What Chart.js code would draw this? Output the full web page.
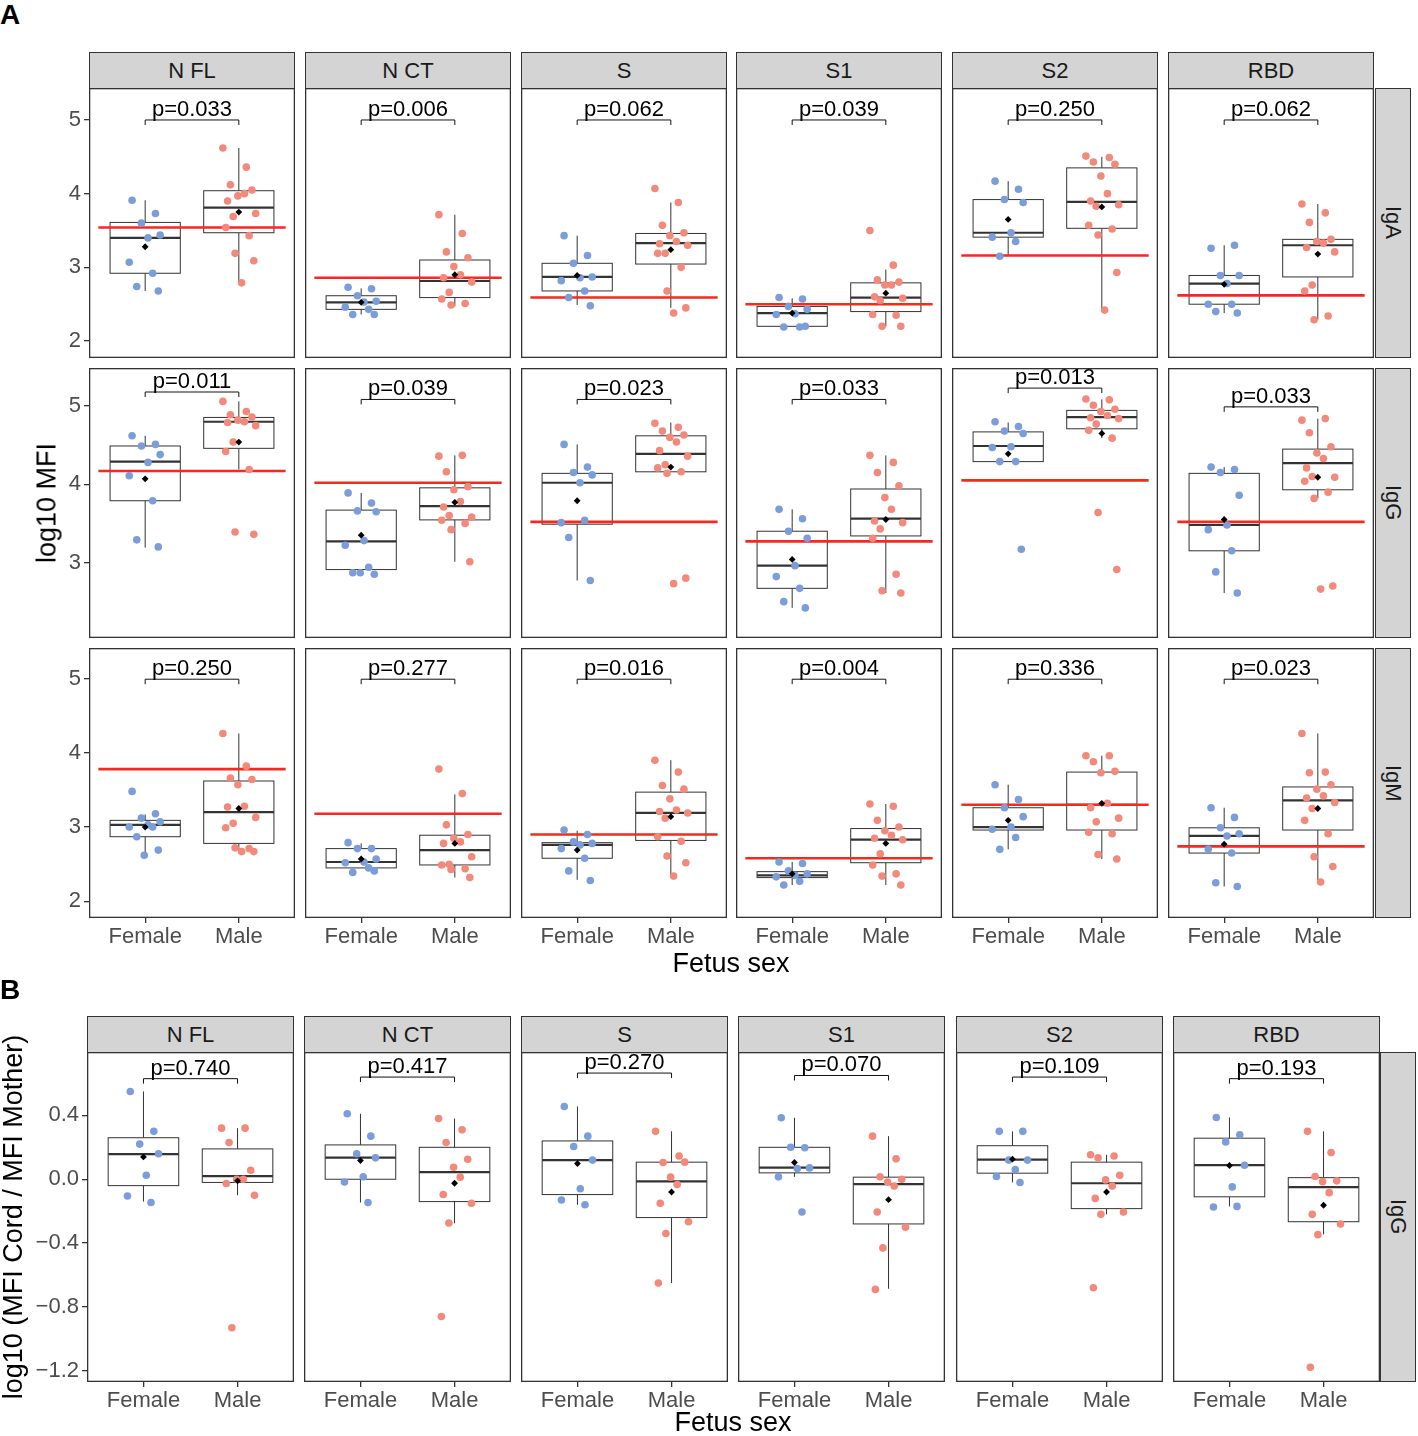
<!DOCTYPE html>
<html>
<head>
<meta charset="utf-8">
<script src="https://cdn.jsdelivr.net/npm/chart.js@4.4.1/dist/chart.umd.min.js"></script>
<style>
  body { margin: 0; background: #fff; font-family: "Liberation Sans", Arial, sans-serif; }
  #fig { position: relative; width: 1418px; height: 1436px; overflow: hidden; }
  .strip { position: absolute; box-sizing: border-box; background: #d4d4d4; border: 1.3px solid #333;
           display: flex; align-items: center; justify-content: center; font-size: 22px; color: #1a1a1a; }
  .vstrip { writing-mode: vertical-rl; }
  .title { position: absolute; white-space: nowrap; font-size: 27px; color: #000; transform: translate(-50%, -50%); }
  .ytitle { transform: translate(-50%, -50%) rotate(-90deg); }
  .tag { position: absolute; font-weight: bold; font-size: 28px; line-height: 28px; }
</style>
</head>
<body>
<div id="fig"></div>
<script>
// ── Data ─────────────────────────────────────────────────────────────────
const ANTIGENS = ['N FL', 'N CT', 'S', 'S1', 'S2', 'RBD'];
const ISOTYPES = ['IgA', 'IgG', 'IgM'];
const GROUPS   = ['Female', 'Male'];
// fixed horizontal jitter (in category units) reused for every group
const JITTER   = [-0.14, 0.11, -0.04, 0.16, 0.03, -0.17, 0.08, -0.09, 0.14, -0.01, 0.06, -0.12, 0.18, -0.06];

// box stats: [lower whisker, q1, median, q3, upper whisker, mean]
const IGA_F_PTS = [
  [3.91, 3.73, 3.60, 3.44, 3.40, 3.07, 2.92, 2.74, 2.68],
  [2.73, 2.71, 2.615, 2.54, 2.53, 2.46, 2.43, 2.36, 2.36],
  [3.43, 3.16, 3.055, 2.87, 2.86, 2.82, 2.68, 2.59, 2.48],
  [2.59, 2.57, 2.47, 2.43, 2.37, 2.36, 2.19, 2.19, 2.20],
  [4.17, 4.06, 3.92, 3.88, 3.47, 3.41, 3.35, 3.15],
  [3.26, 3.30, 2.89, 2.89, 2.78, 2.50, 2.50, 2.40, 2.38]
];
const IGA_M_PTS = [
  [4.62, 4.36, 4.12, 4.05, 3.97, 4.00, 3.90, 3.73, 3.69, 3.54, 3.43, 3.19, 3.09, 2.79],
  [3.715, 3.46, 3.21, 3.13, 3.01, 2.90, 2.86, 2.80, 2.66, 2.57, 2.51, 2.49],
  [4.07, 3.88, 3.57, 3.47, 3.43, 3.35, 3.32, 3.30, 3.19, 3.19, 3.00, 2.68, 2.45, 2.38],
  [3.50, 3.03, 2.83, 2.80, 2.76, 2.76, 2.60, 2.58, 2.55, 2.36, 2.35, 2.20, 2.20],
  [4.51, 4.49, 4.43, 4.40, 4.24, 4.00, 3.90, 3.85, 3.83, 3.57, 3.52, 3.44, 2.93, 2.42],
  [3.86, 3.74, 3.61, 3.38, 3.35, 3.33, 3.27, 3.21, 2.76, 2.68, 2.34, 2.29]
];
const IGA_F_BOX = [
  [2.68, 2.92, 3.40, 3.61, 3.91, 3.28], [2.36, 2.43, 2.525, 2.615, 2.715, 2.525],
  [2.49, 2.68, 2.87, 3.055, 3.43, 2.89], [2.20, 2.20, 2.38, 2.47, 2.58, 2.38],
  [3.17, 3.41, 3.47, 3.92, 4.17, 3.65], [2.38, 2.50, 2.78, 2.89, 3.30, 2.77]
];
const IGA_M_BOX = [
  [2.80, 3.47, 3.81, 4.04, 4.62, 3.75], [2.47, 2.59, 2.815, 3.10, 3.715, 2.90],
  [2.45, 3.045, 3.33, 3.46, 3.88, 3.24], [2.20, 2.40, 2.59, 2.79, 2.97, 2.65],
  [2.43, 3.53, 3.89, 4.35, 4.50, 3.82], [2.29, 2.87, 3.30, 3.38, 3.86, 3.18]
];
const IGA_CUT = [3.54, 2.86, 2.59, 2.50, 3.16, 2.62];
const IGA_P   = ['p=0.033', 'p=0.006', 'p=0.062', 'p=0.039', 'p=0.250', 'p=0.062'];
const IGA_BRK = [5.0, 5.0, 5.0, 5.0, 5.0, 5.0];

const IGG_F_PTS = [
  [4.62, 4.51, 4.49, 4.38, 4.28, 4.11, 3.79, 3.29, 3.20],
  [3.89, 3.76, 3.66, 3.65, 3.28, 3.22, 2.94, 2.87, 2.85, 2.87],
  [4.51, 4.22, 4.15, 4.12, 4.02, 3.51, 3.54, 3.32, 2.77],
  [3.68, 3.56, 3.40, 3.31, 2.96, 2.82, 2.67, 2.50, 2.42],
  [4.80, 4.74, 4.68, 4.65, 4.48, 4.47, 4.29, 4.29, 3.17],
  [4.22, 4.19, 4.15, 3.86, 3.48, 3.42, 3.15, 2.88, 2.61]
];
const IGG_M_PTS = [
  [5.06, 4.93, 4.89, 4.86, 4.82, 4.80, 4.79, 4.75, 4.54, 4.42, 4.19, 3.39, 3.36],
  [4.36, 4.37, 4.16, 3.97, 3.93, 3.78, 3.71, 3.58, 3.60, 3.54, 3.50, 3.42, 3.01],
  [4.78, 4.73, 4.68, 4.63, 4.60, 4.54, 4.43, 4.36, 4.25, 4.21, 4.16, 4.14, 2.80, 2.73],
  [4.37, 4.28, 4.15, 3.98, 3.83, 3.68, 3.53, 3.51, 3.43, 3.31, 2.85, 2.64, 2.61],
  [5.09, 5.08, 5.01, 4.96, 4.93, 4.88, 4.85, 4.84, 4.77, 4.69, 4.59, 3.64, 2.91],
  [4.82, 4.84, 4.66, 4.48, 4.40, 4.33, 4.21, 4.09, 4.10, 4.04, 3.90, 3.82, 2.70, 2.66]
];
const IGG_F_BOX = [
  [3.19, 3.79, 4.29, 4.49, 4.62, 4.07], [2.85, 2.91, 3.27, 3.67, 3.89, 3.35],
  [2.77, 3.49, 4.02, 4.14, 4.51, 3.79], [2.42, 2.67, 2.96, 3.40, 3.68, 3.04],
  [4.29, 4.29, 4.49, 4.67, 4.79, 4.39], [2.61, 3.15, 3.48, 4.14, 4.22, 3.55]
];
const IGG_M_BOX = [
  [4.19, 4.46, 4.80, 4.855, 5.06, 4.54], [3.01, 3.545, 3.72, 3.955, 4.37, 3.77],
  [4.16, 4.16, 4.39, 4.62, 4.79, 4.22], [2.61, 3.34, 3.56, 3.94, 4.37, 3.55],
  [4.59, 4.71, 4.86, 4.945, 5.085, 4.65], [3.82, 3.93, 4.27, 4.45, 4.84, 4.09]
];
const IGG_CUT = [4.17, 4.02, 3.52, 3.27, 4.05, 3.52];
const IGG_P   = ['p=0.011', 'p=0.039', 'p=0.023', 'p=0.033', 'p=0.013', 'p=0.033'];
const IGG_BRK = [5.18, 5.085, 5.085, 5.085, 5.23, 4.99];

const IGM_F_PTS = [
  [3.48, 3.18, 3.12, 3.07, 3.03, 3.00, 3.00, 2.87, 2.69, 2.62],
  [2.79, 2.71, 2.71, 2.57, 2.53, 2.52, 2.45, 2.39, 2.41],
  [2.96, 2.90, 2.80, 2.78, 2.76, 2.71, 2.58, 2.41, 2.28],
  [2.53, 2.51, 2.41, 2.37, 2.35, 2.33, 2.27, 2.22],
  [3.57, 3.37, 3.26, 3.14, 3.00, 2.97, 2.86, 2.70],
  [3.26, 3.13, 2.99, 2.91, 2.88, 2.70, 2.65, 2.25, 2.20]
];
const IGM_M_PTS = [
  [4.26, 3.82, 3.66, 3.64, 3.57, 3.28, 3.27, 3.13, 3.05, 2.99, 2.71, 2.72, 2.67, 2.67],
  [3.78, 3.45, 3.03, 2.90, 2.85, 2.80, 2.78, 2.60, 2.50, 2.49, 2.44, 2.43, 2.32],
  [3.90, 3.74, 3.56, 3.51, 3.38, 3.23, 3.21, 3.19, 3.12, 2.87, 2.81, 2.61, 2.52, 2.34],
  [3.31, 3.28, 3.09, 3.00, 2.95, 2.89, 2.85, 2.83, 2.64, 2.49, 2.37, 2.34, 2.22],
  [3.96, 3.96, 3.88, 3.75, 3.73, 3.32, 3.26, 3.12, 3.07, 2.93, 2.91, 2.63, 2.57],
  [4.26, 3.74, 3.73, 3.57, 3.51, 3.42, 3.39, 3.33, 3.25, 3.09, 2.91, 2.60, 2.47, 2.26]
];
const IGM_F_BOX = [
  [2.63, 2.87, 3.03, 3.09, 3.17, 3.00], [2.45, 2.45, 2.53, 2.71, 2.78, 2.57],
  [2.29, 2.58, 2.76, 2.79, 2.95, 2.69], [2.22, 2.32, 2.35, 2.40, 2.53, 2.37],
  [2.70, 2.96, 3.00, 3.26, 3.57, 3.09], [2.20, 2.65, 2.88, 2.99, 3.26, 2.77]
];
const IGM_M_BOX = [
  [2.67, 2.78, 3.20, 3.62, 4.26, 3.25], [2.32, 2.49, 2.69, 2.89, 3.44, 2.78],
  [2.34, 2.82, 3.19, 3.47, 3.90, 3.14], [2.22, 2.52, 2.83, 2.98, 3.31, 2.78],
  [2.57, 2.96, 3.30, 3.74, 3.96, 3.32], [2.26, 2.96, 3.36, 3.54, 4.26, 3.25]
];
const IGM_CUT = [3.78, 3.18, 2.90, 2.58, 3.30, 2.74];
const IGM_P   = ['p=0.250', 'p=0.277', 'p=0.016', 'p=0.004', 'p=0.336', 'p=0.023'];
const IGM_BRK = [4.99, 4.99, 4.99, 4.99, 4.99, 4.99];

// panel B: log10(cord / mother), IgG
const RATIO_F_PTS = [
  [0.55, 0.30, 0.22, 0.16, 0.025, -0.105, -0.146],
  [0.41, 0.27, 0.16, 0.134, 0.015, -0.017, -0.146],
  [0.456, 0.27, 0.205, 0.12, -0.06, -0.13, -0.16],
  [0.385, 0.197, 0.20, 0.071, 0.067, 0.015, -0.205],
  [0.30, 0.30, 0.12, 0.12, 0.06, 0.017, -0.02],
  [0.387, 0.278, 0.234, 0.088, -0.048, -0.174, -0.17]
];
const RATIO_M_PTS = [
  [0.32, 0.32, 0.23, 0.056, 0.0, 0.0, -0.027, -0.10, -0.93],
  [0.38, 0.31, 0.23, 0.125, 0.075, 0.013, -0.096, -0.15, -0.274, -0.86],
  [0.30, 0.146, 0.105, 0.107, 0.013, -0.033, -0.15, -0.266, -0.34, -0.65],
  [0.27, 0.128, 0.015, 0.0, -0.017, -0.042, -0.205, -0.30, -0.43, -0.69],
  [0.153, 0.146, 0.134, 0.025, -0.004, -0.042, -0.12, -0.205, -0.22, -0.68],
  [0.30, 0.167, 0.017, -0.01, -0.015, -0.084, -0.22, -0.28, -0.347, -1.178]
];
const RATIO_F_BOX = [
  [-0.14, -0.04, 0.157, 0.26, 0.55, 0.14], [-0.146, 0.0, 0.136, 0.215, 0.41, 0.117],
  [-0.16, -0.096, 0.12, 0.24, 0.456, 0.098], [0.015, 0.04, 0.073, 0.20, 0.385, 0.105],
  [-0.02, 0.038, 0.123, 0.21, 0.30, 0.126], [-0.17, -0.11, 0.088, 0.257, 0.387, 0.086]
];
const RATIO_M_BOX = [
  [-0.10, -0.02, 0.02, 0.19, 0.32, -0.01], [-0.276, -0.14, 0.044, 0.20, 0.38, -0.025],
  [-0.65, -0.24, -0.013, 0.107, 0.30, -0.08], [-0.686, -0.28, -0.03, 0.013, 0.27, -0.128],
  [-0.22, -0.184, -0.025, 0.107, 0.153, -0.08], [-0.345, -0.266, -0.05, 0.01, 0.30, -0.163]
];
const RATIO_P   = ['p=0.740', 'p=0.417', 'p=0.270', 'p=0.070', 'p=0.109', 'p=0.193'];
const RATIO_BRK = [0.63, 0.64, 0.665, 0.65, 0.64, 0.63];

const MFI_TICKS        = [2, 3, 4, 5];
const RATIO_TICKS      = [0.4, 0.0, -0.4, -0.8, -1.2];
const RATIO_TICK_LBLS  = ['0.4', '0.0', '\u22120.4', '\u22120.8', '\u22121.2'];

// ── Look ─────────────────────────────────────────────────────────────────
const BLUE   = '#7b9dd9';
const SALMON = '#f2897b';
const RED    = '#f5291e';
const INK    = '#333333';
const FONT   = '"Liberation Sans", Arial, sans-serif';

const fig = document.getElementById('fig');

// boxplots under the points, frame + p-value bracket on top
const boxPlugin = {
  id: 'boxes',
  beforeDatasetsDraw(chart, _, o) {
    const { ctx, scales: { x, y } } = chart;
    [[1, o.f], [2, o.m]].forEach(([g, b]) => {
      const [lo, q1, med, q3, hi] = b;
      const xc = x.getPixelForValue(g), xl = x.getPixelForValue(g - 0.375), xr = x.getPixelForValue(g + 0.375);
      ctx.save();
      ctx.strokeStyle = INK; ctx.lineWidth = 1;
      ctx.beginPath();
      ctx.moveTo(xc, y.getPixelForValue(hi)); ctx.lineTo(xc, y.getPixelForValue(q3));
      ctx.moveTo(xc, y.getPixelForValue(q1)); ctx.lineTo(xc, y.getPixelForValue(lo));
      ctx.stroke();
      const yt = y.getPixelForValue(q3), yb = y.getPixelForValue(q1);
      ctx.fillStyle = '#fff';
      ctx.fillRect(xl, yt, xr - xl, yb - yt);
      ctx.strokeRect(xl, yt, xr - xl, yb - yt);
      ctx.lineWidth = 2.2;
      ctx.beginPath();
      ctx.moveTo(xl, y.getPixelForValue(med)); ctx.lineTo(xr, y.getPixelForValue(med));
      ctx.stroke();
      ctx.restore();
    });
  },
  afterDraw(chart, _, o) {
    const { ctx, chartArea: a, scales: { x, y } } = chart;
    ctx.save();
    ctx.strokeStyle = INK; ctx.lineWidth = 1.3;
    ctx.strokeRect(a.left + 0.65, a.top + 0.65, a.right - a.left - 1.3, a.bottom - a.top - 1.3);
    const x1 = x.getPixelForValue(1), x2 = x.getPixelForValue(2), by = y.getPixelForValue(o.brk);
    ctx.lineWidth = 1; ctx.strokeStyle = '#111';
    ctx.beginPath();
    ctx.moveTo(x1, by + 5); ctx.lineTo(x1, by); ctx.lineTo(x2, by); ctx.lineTo(x2, by + 5);
    ctx.stroke();
    ctx.fillStyle = '#000';
    ctx.font = `22px ${FONT}`;
    ctx.textAlign = 'center'; ctx.textBaseline = 'alphabetic';
    ctx.fillText(o.p, x.getPixelForValue(1.5), by - 4);
    ctx.restore();
  }
};

function addPanel(o) {
  const yax = o.showY ? 60 : 0, xax = o.showX ? 40 : 0;
  const W = o.w + yax, H = o.h + xax;
  const cv = document.createElement('canvas');
  cv.width = W; cv.height = H;
  cv.style.cssText = `position:absolute;left:${o.left - yax}px;top:${o.top}px;width:${W}px;height:${H}px`;
  fig.appendChild(cv);

  const pt = { borderWidth: 0, pointRadius: 3.8, pointHoverRadius: 3.8, order: 2 };
  const datasets = [
    { ...pt, data: o.fPts.map((v, i) => ({ x: 1 + JITTER[i % JITTER.length], y: v })), backgroundColor: BLUE },
    { ...pt, data: o.mPts.map((v, i) => ({ x: 2 + JITTER[(i + 5) % JITTER.length], y: v })), backgroundColor: SALMON },
    { data: [{ x: 1, y: o.fBox[5] }, { x: 2, y: o.mBox[5] }], pointStyle: 'rectRot', pointRadius: 3.4,
      backgroundColor: '#000', borderWidth: 0, order: 1 }
  ];
  if (o.cut != null) {
    datasets.push({ type: 'line', data: [{ x: 0.5, y: o.cut }, { x: 2.5, y: o.cut }],
                    borderColor: RED, borderWidth: 2.6, pointRadius: 0, order: 3 });
  }

  // keep the plotting area exactly the panel: no label overflow padding
  const noPad = s => { s.paddingTop = 0; s.paddingBottom = 0; s.paddingLeft = 0; s.paddingRight = 0; };
  const tickFont = { family: FONT, size: 22 };
  new Chart(cv, {
    type: 'scatter',
    data: { datasets },
    options: {
      responsive: false, animation: false, events: [],
      layout: { padding: 0, autoPadding: false },
      plugins: { legend: { display: false }, tooltip: { enabled: false },
                 boxes: { f: o.fBox, m: o.mBox, p: o.p, brk: o.brk } },
      scales: {
        x: {
          type: 'linear', min: 0.4, max: 2.6, display: o.showX,
          afterBuildTicks: s => { s.ticks = [{ value: 1 }, { value: 2 }]; },
          afterFit: s => { s.height = xax; noPad(s); },
          ticks: { callback: v => GROUPS[v - 1], font: tickFont, color: '#4d4d4d', padding: 1, maxRotation: 0 },
          grid: { drawOnChartArea: false, tickLength: 5, color: INK, lineWidth: 1.3 },
          border: { display: false }
        },
        y: {
          type: 'linear', min: o.yRange[0], max: o.yRange[1], display: o.showY,
          afterBuildTicks: s => { s.ticks = o.yTicks.map(v => ({ value: v })); },
          afterFit: s => { s.width = yax; noPad(s); },
          ticks: { callback: (v, i) => o.yLbls[i], font: tickFont, color: '#4d4d4d', padding: 3 },
          grid: { drawOnChartArea: false, tickLength: 5, color: INK, lineWidth: 1.3 },
          border: { display: false }
        }
      }
    },
    plugins: [boxPlugin]
  });
}

function addDiv(cls, css, text) {
  const d = document.createElement('div');
  d.className = cls; d.style.cssText = css; d.textContent = text;
  fig.appendChild(d);
  return d;
}

// ── Layout: panel A (3 isotypes x 6 antigens) ────────────────────────────
const A_LEFT = [89, 305, 521, 736, 952, 1168], A_W = 206;
const A_TOP  = [88, 368, 648], A_H = 270;
const A_ROWS = [
  { fPts: IGA_F_PTS, mPts: IGA_M_PTS, fBox: IGA_F_BOX, mBox: IGA_M_BOX, cut: IGA_CUT, p: IGA_P, brk: IGA_BRK,
    yRange: [1.77, 5.434], yTicks: MFI_TICKS },
  { fPts: IGG_F_PTS, mPts: IGG_M_PTS, fBox: IGG_F_BOX, mBox: IGG_M_BOX, cut: IGG_CUT, p: IGG_P, brk: IGG_BRK,
    yRange: [2.035, 5.487], yTicks: [3, 4, 5] },
  { fPts: IGM_F_PTS, mPts: IGM_M_PTS, fBox: IGM_F_BOX, mBox: IGM_M_BOX, cut: IGM_CUT, p: IGM_P, brk: IGM_BRK,
    yRange: [1.776, 5.41], yTicks: MFI_TICKS }
];

ANTIGENS.forEach((name, c) => addDiv('strip', `left:${A_LEFT[c]}px;top:52px;width:${A_W}px;height:37px`, name));
A_ROWS.forEach((row, r) => {
  addDiv('strip vstrip', `left:1375px;top:${A_TOP[r]}px;width:36px;height:${A_H}px`, ISOTYPES[r]);
  ANTIGENS.forEach((_, c) => addPanel({
    left: A_LEFT[c], top: A_TOP[r], w: A_W, h: A_H, showY: c === 0, showX: r === 2,
    fPts: row.fPts[c], mPts: row.mPts[c], fBox: row.fBox[c], mBox: row.mBox[c],
    cut: row.cut[c], p: row.p[c], brk: row.brk[c],
    yRange: row.yRange, yTicks: row.yTicks, yLbls: row.yTicks.map(String)
  }));
});

// ── Layout: panel B (IgG cord/mother ratio) ──────────────────────────────
const B_LEFT = [87, 304, 521, 738, 956, 1173], B_W = 207, B_TOP = 1052, B_H = 330;
ANTIGENS.forEach((name, c) => {
  addDiv('strip', `left:${B_LEFT[c]}px;top:1016px;width:${B_W}px;height:37px`, name);
  addPanel({
    left: B_LEFT[c], top: B_TOP, w: B_W, h: B_H, showY: c === 0, showX: true,
    fPts: RATIO_F_PTS[c], mPts: RATIO_M_PTS[c], fBox: RATIO_F_BOX[c], mBox: RATIO_M_BOX[c],
    cut: null, p: RATIO_P[c], brk: RATIO_BRK[c],
    yRange: [-1.27, 0.797], yTicks: RATIO_TICKS, yLbls: RATIO_TICK_LBLS
  });
});
addDiv('strip vstrip', `left:1380px;top:${B_TOP}px;width:36px;height:${B_H}px`, 'IgG');

// titles and tags
addDiv('title ytitle', 'left:47px;top:503px', 'log10 MFI');
addDiv('title', 'left:731px;top:963px', 'Fetus sex');
addDiv('title ytitle', 'left:13px;top:1217px', 'log10 (MFI Cord / MFI Mother)');
addDiv('title', 'left:733px;top:1422px', 'Fetus sex');
addDiv('tag', 'left:0px;top:1px', 'A');
addDiv('tag', 'left:0px;top:976px', 'B');
</script>
</body>
</html>
